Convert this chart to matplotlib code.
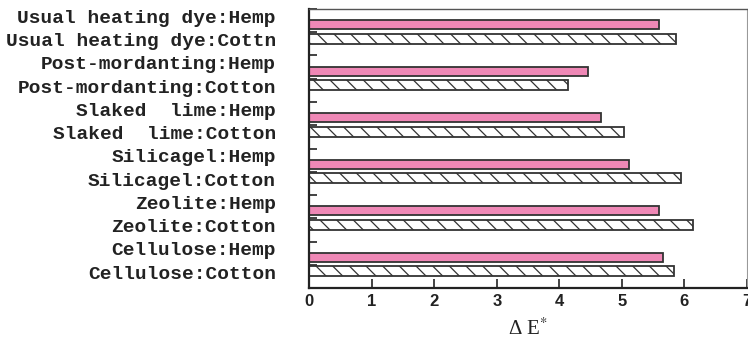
import numpy as np
import matplotlib
matplotlib.use('Agg')
import matplotlib.pyplot as plt
from matplotlib.ticker import FixedLocator

# Data
treatments = ['Usual heating dye', 'Post-mordanting', 'Slaked lime',
              'Silicagel', 'Zeolite', 'Cellulose']
hemp_labels = ['Usual heating dye:Hemp', 'Post-mordanting:Hemp', 'Slaked  lime:Hemp',
               'Silicagel:Hemp', 'Zeolite:Hemp', 'Cellulose:Hemp']
cotton_labels = ['Usual heating dye:Cottn', 'Post-mordanting:Cotton', 'Slaked  lime:Cotton',
                 'Silicagel:Cotton', 'Zeolite:Cotton', 'Cellulose:Cotton']
hemp = [5.59, 4.46, 4.67, 5.11, 5.59, 5.65]
cotton = [5.86, 4.13, 5.04, 5.95, 6.13, 5.83]
x_ticks = [0, 1, 2, 3, 4, 5, 6, 7]

plt.rcParams['hatch.linewidth'] = 0.9
plt.rcParams['hatch.color'] = '#333333'
plt.rcParams['mathtext.fontset'] = 'stix'

fig = plt.figure(figsize=(7.48, 3.43), dpi=100)
ax = fig.add_axes([0.4135, 0.1603, 0.5852, 0.8135])

n = len(treatments)
groups = np.arange(n)
hemp_pos = groups + 0.34
cotton_pos = groups + 0.64

ax.barh(hemp_pos, hemp, height=0.19, color='#EF88B6', edgecolor='#333333',
        linewidth=1.3, zorder=2)
ax.barh(cotton_pos, cotton, height=0.22, color='white', edgecolor='#333333',
        linewidth=1.3, hatch='\\\\', zorder=2)

ax.set_xlim(0, 7)
ax.set_ylim(n, 0)

# category labels (no tick marks)
label_pos = np.concatenate([groups + 0.16, groups + 0.66])
labels = hemp_labels + cotton_labels
order = np.argsort(label_pos)
ax.set_yticks(label_pos[order])
ax.set_yticklabels([labels[i] for i in order], family='Liberation Mono',
                   fontweight='bold', fontsize=14, color='#222222')
ax.tick_params(axis='y', which='major', length=0, pad=24)

# group boundary / middle marks
ax.yaxis.set_minor_locator(FixedLocator(list(np.arange(0, n + 0.5, 0.5))))
ax.tick_params(axis='y', which='minor', direction='in', length=6, width=1.2,
               color='#222222')

ax.set_xticks(x_ticks)
ax.set_xticklabels([str(t) for t in x_ticks], family='Liberation Sans',
                   fontweight='bold', fontsize=12, color='#222222')
ax.tick_params(axis='x', direction='in', length=6.5, width=1.2, pad=4,
               color='#222222')

ax.set_xlabel('Δ E$^{*}$', family='Liberation Serif', fontsize=15,
              labelpad=7, color='#222222')

for side in ['left', 'bottom']:
    ax.spines[side].set_linewidth(1.6)
    ax.spines[side].set_color('#222222')
ax.spines['top'].set_linewidth(1.0)
ax.spines['top'].set_color('#555555')
ax.spines['right'].set_linewidth(0.8)
ax.spines['right'].set_color('#999999')

fig.savefig('out.png', dpi=100)
